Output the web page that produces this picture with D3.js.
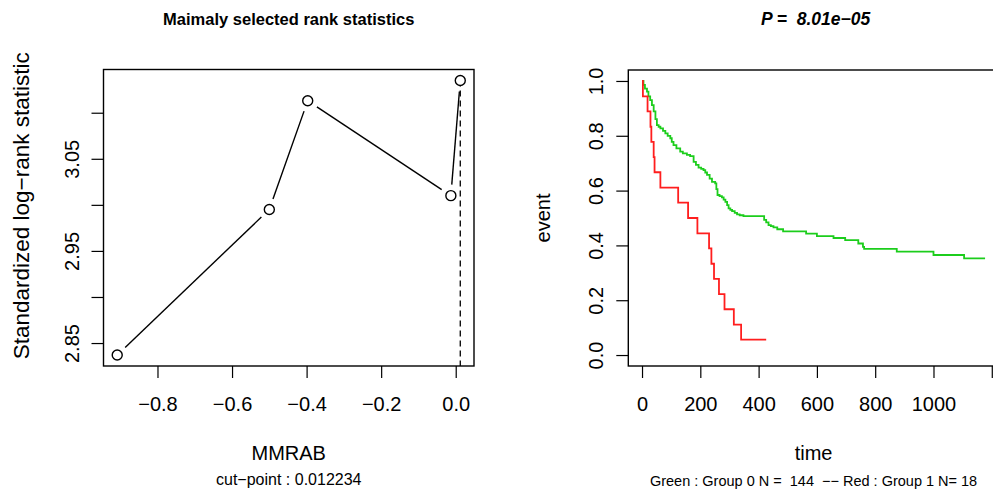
<!DOCTYPE html>
<html>
<head>
<meta charset="utf-8">
<script src="https://cdn.jsdelivr.net/npm/d3@7"></script>
<style>
  html, body { margin: 0; padding: 0; background: #fff; }
  svg { display: block; font-family: "Liberation Sans", Arial, Helvetica, sans-serif; }
  text { white-space: pre; }
</style>
</head>
<body>
<svg id="chart" width="993" height="494"></svg>
<script>
// ---- Maximally selected rank statistics (left panel) ----
const cutPoints = [-0.908, -0.500, -0.397, -0.013, 0.012234];
const cutStats  = [2.837, 2.995, 3.113, 3.010, 3.135];
const bestCut   = 0.012234;
const leftXTicks = [-0.8, -0.6, -0.4, -0.2, 0.0];
const leftYTicks = [2.85, 2.90, 2.95, 3.00, 3.05, 3.10];
const leftYLabeled = [2.85, 2.95, 3.05];

// ---- Kaplan–Meier curves (right panel) ----
const greenTime = [0, 5, 10, 17, 22, 28, 34, 40, 46, 51, 57, 63, 72, 80, 88, 97, 102, 108, 118, 131,
  140, 154, 165, 177, 185, 194, 203, 211, 217, 223, 232, 240, 251, 255, 259, 266, 274, 280, 286, 292,
  297, 303, 309, 318, 326, 335, 348, 419, 426, 434, 442, 451, 464, 484, 563, 600, 657, 697, 742, 758,
  762, 874, 1000, 1105, 1177];
const greenSurv = [1, 0.986, 0.972, 0.961, 0.944, 0.930, 0.912, 0.889, 0.861, 0.839, 0.833, 0.827,
  0.818, 0.809, 0.800, 0.791, 0.778, 0.766, 0.754, 0.742, 0.736, 0.730, 0.726, 0.705, 0.694, 0.684,
  0.679, 0.675, 0.666, 0.657, 0.644, 0.632, 0.626, 0.605, 0.584, 0.580, 0.575, 0.567, 0.559, 0.547,
  0.535, 0.530, 0.525, 0.519, 0.513, 0.510, 0.507, 0.493, 0.484, 0.474, 0.470, 0.466, 0.459, 0.451,
  0.443, 0.434, 0.427, 0.419, 0.407, 0.395, 0.387, 0.377, 0.365, 0.353, 0.353];
const redTime = [0, 3, 19, 29, 32, 40, 43, 63, 124, 158, 190, 230, 238, 247, 264, 283, 315, 340, 426];
const redSurv = [1, 0.944, 0.889, 0.833, 0.778, 0.722, 0.667, 0.611, 0.556, 0.500, 0.444, 0.389,
  0.333, 0.278, 0.222, 0.167, 0.111, 0.056, 0.056];
const rightXTicks = [0, 200, 400, 600, 800, 1000, 1200];
const rightXLabeled = [0, 200, 400, 600, 800, 1000];
const rightYTicks = [0, 0.2, 0.4, 0.6, 0.8, 1.0];

const svg = d3.select("#chart");
svg.append("rect").attr("width", 993).attr("height", 494).attr("fill", "#fff");

const TICK = 12, FS = 20;

// R-style 4% padding of the data range
function padded(ext) {
  const p = (ext[1] - ext[0]) * 0.04;
  return [ext[0] - p, ext[1] + p];
}

function styleAxis(g) {
  g.select(".domain").remove();
  g.selectAll(".tick line").attr("stroke", "#000").attr("stroke-width", 1.2);
  g.selectAll(".tick text").attr("fill", "#000").style("font-size", FS + "px");
}

function isLabeled(list, d) {
  return list.some(v => Math.abs(v - d) < 1e-9);
}

function bottomAxis(x, ticks, labeled, y0, fmt) {
  const g = svg.append("g").attr("transform", `translate(0,${y0})`)
    .call(d3.axisBottom(x).tickValues(ticks).tickSize(TICK).tickPadding(19)
      .tickFormat(d => isLabeled(labeled, d) ? fmt(d) : ""));
  styleAxis(g);
  return g;
}

function leftAxis(y, ticks, labeled, x0, fmt) {
  const g = svg.append("g").attr("transform", `translate(${x0},0)`)
    .call(d3.axisLeft(y).tickValues(ticks).tickSize(TICK)
      .tickFormat(d => isLabeled(labeled, d) ? fmt(d) : ""));
  styleAxis(g);
  g.selectAll(".tick text")
    .attr("x", null).attr("dy", null)
    .attr("text-anchor", "middle")
    .attr("dominant-baseline", "central")
    .attr("transform", "translate(-32,0) rotate(-90)");
  return g;
}

const fmtSigned1 = d => (Math.abs(d) < 1e-9 ? "0.0" : d3.format(".1f")(d).replace("-", "\u2212"));

// ================= Left panel =================
const L = { left: 103.5, right: 474, top: 69.5, bottom: 366 };
const xL = d3.scaleLinear().domain(padded(d3.extent(cutPoints))).range([L.left, L.right]);
const yL = d3.scaleLinear().domain(padded(d3.extent(cutStats))).range([L.bottom, L.top]);

bottomAxis(xL, leftXTicks, leftXTicks, L.bottom, fmtSigned1);
leftAxis(yL, leftYTicks, leftYLabeled, L.left, d3.format(".2f"));

// dashed marker at the selected cut-point
svg.append("line")
  .attr("x1", xL(bestCut)).attr("x2", xL(bestCut))
  .attr("y1", yL(d3.max(cutStats))).attr("y2", yL(yL.domain()[0]))
  .attr("stroke", "#000").attr("stroke-width", 1.3).attr("stroke-dasharray", "6,4");

// "both" style: segments broken around the point symbols
const GAP = 11;
const pts = cutPoints.map((c, i) => [xL(c), yL(cutStats[i])]);
for (let i = 0; i < pts.length - 1; i++) {
  const [x1, y1] = pts[i], [x2, y2] = pts[i + 1];
  const len = Math.hypot(x2 - x1, y2 - y1);
  if (len <= 2 * GAP) continue;
  const ux = (x2 - x1) / len, uy = (y2 - y1) / len;
  svg.append("line")
    .attr("x1", x1 + ux * GAP).attr("y1", y1 + uy * GAP)
    .attr("x2", x2 - ux * GAP).attr("y2", y2 - uy * GAP)
    .attr("stroke", "#000").attr("stroke-width", 1.4);
}
svg.append("g").selectAll("circle").data(cutPoints).join("circle")
  .attr("cx", d => xL(d)).attr("cy", (d, i) => yL(cutStats[i])).attr("r", 5)
  .attr("fill", "#fff").attr("stroke", "#000").attr("stroke-width", 1.4);

svg.append("rect").attr("x", L.left).attr("y", L.top)
  .attr("width", L.right - L.left).attr("height", L.bottom - L.top)
  .attr("fill", "none").attr("stroke", "#000").attr("stroke-width", 1.4);

svg.append("text").attr("x", (L.left + L.right) / 2).attr("y", 19)
  .attr("text-anchor", "middle").attr("dominant-baseline", "central")
  .style("font-size", "16.5px").style("font-weight", "bold")
  .text("Maimaly selected rank statistics");
svg.append("text").attr("x", (L.left + L.right) / 2).attr("y", 453)
  .attr("text-anchor", "middle").attr("dominant-baseline", "central")
  .style("font-size", FS + "px").text("MMRAB");
svg.append("text").attr("x", (L.left + L.right) / 2).attr("y", 479)
  .attr("text-anchor", "middle").attr("dominant-baseline", "central")
  .style("font-size", "16px").text("cut\u2212point : " + bestCut);
svg.append("text")
  .attr("transform", `translate(21,${(L.top + L.bottom) / 2 - 12}) rotate(-90)`)
  .attr("text-anchor", "middle").attr("dominant-baseline", "central")
  .style("font-size", "22.5px").text("Standardized log\u2212rank statistic");

// ================= Right panel =================
const R = { left: 628.3, right: 998.8, top: 70, bottom: 366 };
const xR = d3.scaleLinear().domain(padded([0, d3.max(greenTime.concat(redTime))])).range([R.left, R.right]);
const yR = d3.scaleLinear().domain(padded([0, 1])).range([R.bottom, R.top]);

bottomAxis(xR, rightXTicks, rightXLabeled, R.bottom, d3.format("d"));
leftAxis(yR, rightYTicks, rightYTicks, R.left, d3.format(".1f"));

svg.append("clipPath").attr("id", "kmclip").append("rect")
  .attr("x", R.left).attr("y", R.top).attr("width", R.right - R.left).attr("height", R.bottom - R.top);

const step = d3.line().curve(d3.curveStepAfter).x(d => xR(d[0])).y(d => yR(d[1]));
const kmG = svg.append("g").attr("clip-path", "url(#kmclip)");
kmG.append("path").datum(greenTime.map((t, i) => [t, greenSurv[i]]))
  .attr("d", step).attr("fill", "none").attr("stroke", "#1ccd1c").attr("stroke-width", 1.8);
kmG.append("path").datum(redTime.map((t, i) => [t, redSurv[i]]))
  .attr("d", step).attr("fill", "none").attr("stroke", "#ff1e1e").attr("stroke-width", 1.8);

svg.append("rect").attr("x", R.left).attr("y", R.top)
  .attr("width", R.right - R.left).attr("height", R.bottom - R.top)
  .attr("fill", "none").attr("stroke", "#000").attr("stroke-width", 1.4);

svg.append("text").attr("x", (R.left + R.right) / 2 + 2).attr("y", 19)
  .attr("text-anchor", "middle").attr("dominant-baseline", "central")
  .style("font-size", "17.5px").style("font-weight", "bold").style("font-style", "italic")
  .text("P =  8.01e\u221205");
svg.append("text").attr("x", (R.left + R.right) / 2).attr("y", 453)
  .attr("text-anchor", "middle").attr("dominant-baseline", "central")
  .style("font-size", FS + "px").text("time");
svg.append("text").attr("x", (R.left + R.right) / 2).attr("y", 481)
  .attr("text-anchor", "middle").attr("dominant-baseline", "central")
  .style("font-size", "14.5px")
  .text("Green : Group 0 N =  144  \u2212\u2212 Red : Group 1 N= 18");
svg.append("text")
  .attr("transform", `translate(543,${(R.top + R.bottom) / 2}) rotate(-90)`)
  .attr("text-anchor", "middle").attr("dominant-baseline", "central")
  .style("font-size", FS + "px").text("event");
</script>
</body>
</html>
